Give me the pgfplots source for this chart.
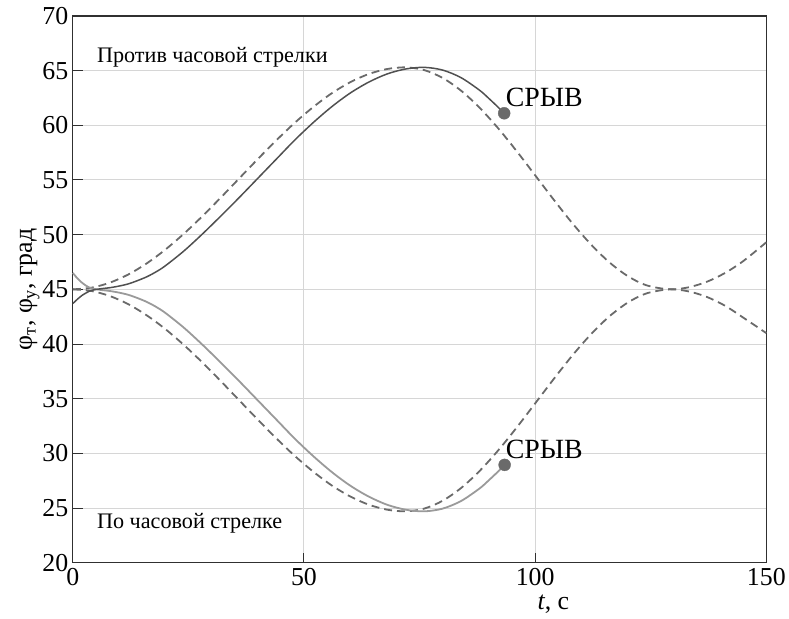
\documentclass[border=0pt]{standalone}
\usepackage{fontspec}
\setmainfont{Liberation Serif}
\usepackage{pgfplots}
\pgfplotsset{compat=1.18}
\usepackage{pgfplotstable}
\usetikzlibrary{calc}
\definecolor{darkline}{HTML}{505050}
\definecolor{lightline}{HTML}{9A9A9A}
\definecolor{dashline}{HTML}{6A6A6A}
\definecolor{gridc}{HTML}{D6D6D6}
\definecolor{framec}{HTML}{303030}

\pgfplotstableread{
t y
0 45.0
4 45.15
8 45.61
12 46.36
16 47.38
20 48.63
24 50.08
28 51.68
32 53.39
36 55.15
40 56.91
44 58.62
48 60.23
52 61.67
56 62.93
60 63.94
64 64.69
68 65.15
72 65.3
76 65.05
80 64.33
84 63.16
88 61.60
92 59.73
96 57.64
100 55.43
104 53.21
108 51.07
112 49.14
116 47.49
120 46.22
124 45.38
129 45.0
133 45.17
137 45.67
141 46.48
145 47.58
150 49.3
}\dashup

\pgfplotstableread{
t y
0 45.0
4 44.85
8 44.39
12 43.64
16 42.62
20 41.37
24 39.92
28 38.32
32 36.61
36 34.85
40 33.09
44 31.38
48 29.77
52 28.33
56 27.07
60 26.06
64 25.31
68 24.85
72 24.7
76 24.95
80 25.67
84 26.84
88 28.40
92 30.27
96 32.36
100 34.57
104 36.79
108 38.93
112 40.86
116 42.51
120 43.78
124 44.62
129 45.0
133 44.83
137 44.33
141 43.52
145 42.42
150 41.0
}\dashdown

\pgfplotstableread{
t y
0 43.7
1 44.1
2 44.45
3 44.7
4 44.9
6 45.05
8 45.15
10 45.3
12 45.5
14 45.8
16 46.15
18 46.6
20 47.15
24 48.5
28 50.05
32 51.7
36 53.4
40 55.15
44 56.9
48 58.65
52 60.25
56 61.7
60 62.95
64 63.95
68 64.7
72 65.15
76 65.3
80 65.05
84 64.35
88 63.2
90 62.45
92 61.65
93.3 61.05
}\solidup

\pgfplotstableread{
t y
0 46.5
1 46.0
2 45.6
3 45.3
4 45.1
6 44.95
8 44.85
10 44.7
12 44.5
14 44.2
16 43.85
18 43.4
20 42.85
24 41.5
28 39.95
32 38.3
36 36.6
40 34.85
44 33.1
48 31.35
52 29.75
56 28.3
60 27.05
64 26.05
68 25.3
72 24.85
76 24.7
80 24.95
84 25.65
88 26.8
90 27.55
92 28.35
93.3 28.95
}\soliddown

\begin{document}
\begin{tikzpicture}
\begin{axis}[
  name=ax,
  scale only axis,
  width=695bp, height=548bp,
  xmin=0, xmax=150, ymin=20, ymax=70,
  xtick={0,50,100,150},
  ytick={20,25,...,70},
  tick pos=left,
  tick align=inside,
  major tick length=10bp,
  tick style={color=framec, line width=1bp},
  axis line style={color=framec, line width=1.3bp},
  grid=major,
  grid style={color=gridc, line width=1bp},
  /pgf/number format/assume math mode=true,
  ticklabel style={font=\fontsize{26}{30}\selectfont, color=black},
  xticklabel style={yshift=-2bp},
  yticklabel style={xshift=-1bp},
  xlabel={\textit{t}, с},
  xlabel style={font=\fontsize{26}{30}\selectfont, at={(axis description cs:0.693,-0.0858)}, anchor=base},
  ylabel={φ\textsubscript{т}, φ\textsubscript{у}, град},
  ylabel style={font=\fontsize{26}{30}\selectfont, at={(axis description cs:-0.059,0.5)}, anchor=base},
  clip=false,
]
\addplot[dashline, line width=1.8bp, dash pattern=on 8bp off 5bp, smooth] table[x=t,y=y] {\dashup};
\addplot[dashline, line width=1.8bp, dash pattern=on 8bp off 5bp, smooth] table[x=t,y=y] {\dashdown};
\addplot[lightline, line width=1.8bp, smooth] table[x=t,y=y] {\soliddown};
\addplot[darkline, line width=1.5bp, smooth] table[x=t,y=y] {\solidup};
\addplot[only marks, mark=*, mark size=6bp, color=dashline, fill=dashline] coordinates {(93.3,61.1) (93.4,28.95)};
\node[anchor=base west, font=\fontsize{28}{32}\selectfont, inner sep=0pt] at (axis cs:93.6,61.7) {СРЫВ};
\node[anchor=base west, font=\fontsize{28}{32}\selectfont, inner sep=0pt] at (axis cs:93.6,29.5) {СРЫВ};
\node[anchor=west, font=\fontsize{22.3}{26}\selectfont, inner sep=0pt] at (axis cs:5.2,66.2) {Против часовой стрелки};
\node[anchor=west, font=\fontsize{22.3}{26}\selectfont, inner sep=0pt] at (axis cs:5.2,23.65) {По часовой стрелке};
\end{axis}
\path ($(ax.south west)+(-73bp,-56bp)$) rectangle ($(ax.north east)+(21bp,16bp)$);
\end{tikzpicture}
\end{document}
